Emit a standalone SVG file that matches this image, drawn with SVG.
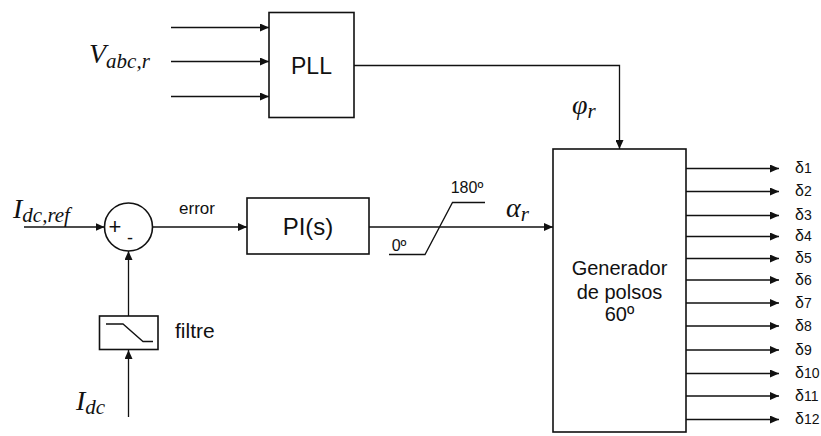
<svg xmlns="http://www.w3.org/2000/svg" width="821" height="436" viewBox="0 0 821 436">
<defs>
<marker id="arr" markerUnits="userSpaceOnUse" markerWidth="9" markerHeight="8" refX="9" refY="4" orient="auto">
<path d="M0,0 L9,4 L0,8 z" fill="#111"/>
</marker>
<style>
.ln{fill:none;stroke:#111;stroke-width:1.3}
.bx{fill:#fff;stroke:#111;stroke-width:1.6}
.s{font-family:"Liberation Sans",Arial,sans-serif;fill:#111}
.m{font-family:"Liberation Serif","Times New Roman",serif;font-style:italic;fill:#111}
.d{font-family:"Liberation Sans",Arial,sans-serif;fill:#111;font-size:16px}
.d tspan{font-size:14px}
</style>
</defs>
<rect width="821" height="436" fill="#fff"/>
<g id="connectors">
<line class="ln" x1="171" y1="27.5" x2="269" y2="27.5" marker-end="url(#arr)"/>
<line class="ln" x1="171" y1="61.5" x2="269" y2="61.5" marker-end="url(#arr)"/>
<line class="ln" x1="171" y1="96.5" x2="269" y2="96.5" marker-end="url(#arr)"/>
<polyline class="ln" points="354,65.5 619.5,65.5 619.5,149" marker-end="url(#arr)"/>
<line class="ln" x1="24" y1="227" x2="104.5" y2="227" marker-end="url(#arr)"/>
<line class="ln" x1="152.5" y1="227" x2="247" y2="227" marker-end="url(#arr)"/>
<line class="ln" x1="369" y1="227" x2="553" y2="227" marker-end="url(#arr)"/>
<polyline class="ln" points="389,254.5 425,254.5 452.5,202.5 485,202.5"/>
<line class="ln" x1="128.5" y1="316" x2="128.5" y2="251" marker-end="url(#arr)"/>
<line class="ln" x1="128.5" y1="417" x2="128.5" y2="350" marker-end="url(#arr)"/>
<line class="ln" x1="686" y1="168.5" x2="779" y2="168.5" marker-end="url(#arr)"/>
<line class="ln" x1="686" y1="191.5" x2="779" y2="191.5" marker-end="url(#arr)"/>
<line class="ln" x1="686" y1="215.5" x2="779" y2="215.5" marker-end="url(#arr)"/>
<line class="ln" x1="686" y1="236.5" x2="779" y2="236.5" marker-end="url(#arr)"/>
<line class="ln" x1="686" y1="258.5" x2="779" y2="258.5" marker-end="url(#arr)"/>
<line class="ln" x1="686" y1="280" x2="779" y2="280" marker-end="url(#arr)"/>
<line class="ln" x1="686" y1="303" x2="779" y2="303" marker-end="url(#arr)"/>
<line class="ln" x1="686" y1="326" x2="779" y2="326" marker-end="url(#arr)"/>
<line class="ln" x1="686" y1="350" x2="779" y2="350" marker-end="url(#arr)"/>
<line class="ln" x1="686" y1="373.5" x2="779" y2="373.5" marker-end="url(#arr)"/>
<line class="ln" x1="686" y1="396" x2="779" y2="396" marker-end="url(#arr)"/>
<line class="ln" x1="686" y1="419.5" x2="779" y2="419.5" marker-end="url(#arr)"/>
</g>
<g id="pll">
<rect class="bx" x="269" y="12.5" width="85" height="105"/>
<text class="s" x="311.5" y="74" font-size="23" text-anchor="middle">PLL</text>
</g>
<g id="vabc">
<text class="m" x="89" y="63" font-size="28">V<tspan font-size="21" dy="5">abc,r</tspan></text>
</g>
<g id="sum">
<circle class="bx" cx="128.5" cy="227" r="24"/>
<text class="s" x="115" y="234" font-size="22" text-anchor="middle">+</text>
<text class="s" x="130" y="244" font-size="18" text-anchor="middle">-</text>
</g>
<g id="idcref">
<text class="m" x="13" y="218" font-size="28">I<tspan font-size="21" dy="4">dc,ref</tspan></text>
</g>
<g id="error-label">
<text class="s" x="197" y="214" font-size="17" text-anchor="middle">error</text>
</g>
<g id="pi">
<rect class="bx" x="247" y="198" width="122" height="56"/>
<text class="s" x="308" y="235" font-size="24" text-anchor="middle">PI(s)</text>
</g>
<g id="switch-labels">
<text class="s" x="467" y="193" font-size="16" text-anchor="middle">180º</text>
<text class="s" x="399" y="251" font-size="16" text-anchor="middle">0º</text>
</g>
<g id="alpha">
<text class="m" x="506" y="217" font-size="28">α<tspan font-size="21" dy="4">r</tspan></text>
</g>
<g id="phi">
<text class="m" x="572" y="114" font-size="28">φ<tspan font-size="21" dy="4">r</tspan></text>
</g>
<g id="filter">
<rect class="bx" x="99.5" y="316" width="58.5" height="33.5"/>
<polyline class="ln" points="106,324 123,324 143,341.5 153,341.5"/>
<text class="s" x="175" y="338" font-size="21">filtre</text>
</g>
<g id="idc">
<text class="m" x="76" y="410" font-size="28">I<tspan font-size="21" dy="4">dc</tspan></text>
</g>
<g id="generator">
<rect class="bx" x="553" y="149" width="133" height="283"/>
<text class="s" x="619.5" y="275" font-size="20" text-anchor="middle">Generador</text>
<text class="s" x="619.5" y="299" font-size="20" text-anchor="middle">de polsos</text>
<text class="s" x="619.5" y="321" font-size="20" text-anchor="middle">60º</text>
</g>
<g id="outputs">
<text class="d" x="795" y="173">δ<tspan>1</tspan></text>
<text class="d" x="795" y="196">δ<tspan>2</tspan></text>
<text class="d" x="795" y="220">δ<tspan>3</tspan></text>
<text class="d" x="795" y="241">δ<tspan>4</tspan></text>
<text class="d" x="795" y="263">δ<tspan>5</tspan></text>
<text class="d" x="795" y="285">δ<tspan>6</tspan></text>
<text class="d" x="795" y="308">δ<tspan>7</tspan></text>
<text class="d" x="795" y="331">δ<tspan>8</tspan></text>
<text class="d" x="795" y="355">δ<tspan>9</tspan></text>
<text class="d" x="795" y="378">δ<tspan>10</tspan></text>
<text class="d" x="795" y="401">δ<tspan>11</tspan></text>
<text class="d" x="795" y="424">δ<tspan>12</tspan></text>
</g>
</svg>
